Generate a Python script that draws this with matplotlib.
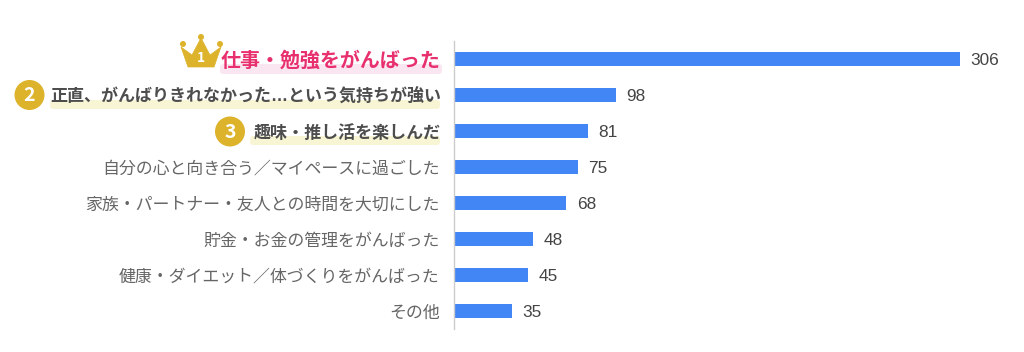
import matplotlib
matplotlib.use('Agg')
import matplotlib.pyplot as plt
from matplotlib.patches import Circle, FancyBboxPatch, Polygon

plt.rcParams['font.family'] = ['Noto Sans CJK JP', 'DejaVu Sans']

labels = ['仕事・勉強をがんばった',
          '正直、がんばりきれなかった…という気持ちが強い',
          '趣味・推し活を楽しんだ',
          '自分の心と向き合う／マイペースに過ごした',
          '家族・パートナー・友人との時間を大切にした',
          '貯金・お金の管理をがんばった',
          '健康・ダイエット／体づくりをがんばった',
          'その他']
values = [306, 98, 81, 75, 68, 48, 45, 35]
ranks = ['1', '2', '3']

W, H = 1024, 352
fig = plt.figure(figsize=(W / 100, H / 100), dpi=100)

# overlay in pixel coordinates for the highlights and rank badges
bg = fig.add_axes([0, 0, 1, 1])
bg.set_xlim(0, W)
bg.set_ylim(H, 0)
bg.axis('off')

ax = fig.add_axes([454 / W, 1 - 329 / H, 570 / W, 288 / H])
ax.patch.set_alpha(0)
ax.barh(range(len(values)), values, height=0.37, color='#4285f4')
ax.set_xlim(0, 570 / (506 / 306))
ax.set_ylim(7.5, -0.5)
ax.set_xticks([])
ax.set_yticks(range(len(labels)))
ax.set_yticklabels([])
ax.tick_params(length=0)
for s in ['top', 'right', 'bottom']:
    ax.spines[s].set_visible(False)
ax.spines['left'].set_color('#cccccc')
ax.spines['left'].set_linewidth(1)

for i, v in enumerate(values):
    ax.annotate(str(v), (v, i), xytext=(7.5, -1), textcoords='offset points',
                va='center', ha='left', fontsize=12.4, color='#444444',
                family=['Liberation Sans'])

# category labels
for i, lab in enumerate(labels):
    if i == 0:
        ax.annotate(lab, (0, i), xytext=(-9.5, -1), textcoords='offset points',
                    va='center', ha='right', fontsize=14.4, color='#e8306f', weight='bold')
    elif i == 1:
        # latin font first so the ellipsis sits on the baseline
        ax.annotate(lab, (0, i), xytext=(-9.5, -1.2), textcoords='offset points',
                    va='center', ha='right', fontsize=12.25, color='#4d4d4d', weight='bold',
                    family=['Liberation Sans', 'Noto Sans CJK JP'])
    elif i == 2:
        ax.annotate(lab, (0, i), xytext=(-9.5, -1.2), textcoords='offset points',
                    va='center', ha='right', fontsize=12.25, color='#4d4d4d', weight='bold')
    else:
        ax.annotate(lab, (0, i), xytext=(-10.5, -1.2), textcoords='offset points',
                    va='center', ha='right', fontsize=12.2, color='#666666')

# highlights under the top three labels
for x0, x1, y0, y1, c in [(220, 442, 64, 74, '#f9e6f0'),
                          (50, 440, 100, 109, '#f8f5d4'),
                          (250, 440, 136, 145, '#f8f5d4')]:
    bg.add_patch(FancyBboxPatch((x0 + 3, y0 + 3), x1 - x0 - 6, y1 - y0 - 6,
                                boxstyle='round,pad=3', fc=c, ec='none', zorder=0))

gold = '#dcb32a'
# crown
bg.add_patch(Polygon([(188, 67), (181, 47), (192, 55), (201, 38), (210, 55),
                      (221, 47), (214, 67)], closed=True, fc=gold, ec=gold, lw=0.5))
for cx, cy in [(183, 44), (201, 37), (220, 44)]:
    bg.add_patch(Circle((cx, cy), 3, fc=gold, ec='none'))
bg.text(200.5, 58.5, ranks[0], color='white', fontsize=10, ha='center', va='center', weight='bold')

# round badges
for (cx, cy), r in zip([(29.5, 95), (230, 131.5)], ranks[1:]):
    bg.add_patch(Circle((cx, cy), 15, fc=gold, ec='none'))
    bg.text(cx, cy + 0.5, r, color='white', fontsize=14, ha='center', va='center', weight='bold')

fig.savefig('out.png', dpi=100)
